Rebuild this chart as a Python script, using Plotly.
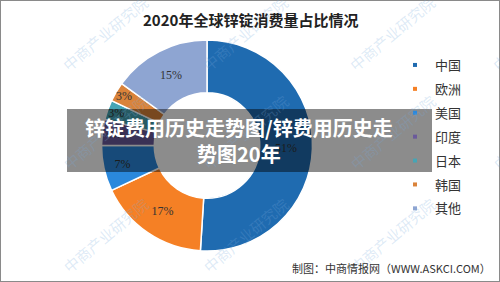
import plotly.graph_objects as go

categories = ["中国", "欧洲", "美国", "印度", "日本", "韩国", "其他"]
values = [51, 17, 7, 4, 3, 3, 15]
colors = ["#1F6BB0", "#F58025", "#2A88DC", "#6B5A9B", "#46A5B5", "#DA833A", "#8EA5D2"]
labels_text = [f"{v}%" for v in values]

title_text = "2020年全球锌锭消费量占比情况"
overlay_text = "锌锭费用历史走势图/锌费用历史走<br>势图20年"
source_text = "制图：中商情报网（WWW.ASKCI.COM）"
watermark = "中商产业研究院"

fig = go.Figure()
fig.add_trace(go.Pie(
    labels=categories, values=values, text=labels_text,
    textinfo="text", textposition="inside", insidetextorientation="horizontal",
    hole=0.5, sort=False, direction="clockwise", rotation=0,
    marker=dict(colors=colors, line=dict(color="white", width=1.5)),
    textfont=dict(family="Liberation Serif, DejaVu Serif", size=12, color="#333333"),
    domain=dict(x=[0.202, 0.626], y=[0.11, 0.858]),
    showlegend=False, hoverinfo="skip",
))
for i, (c, col) in enumerate(zip(categories, colors)):
    fig.add_trace(go.Scatter(
        x=[None], y=[None], mode="markers", name=c, legendgroup=f"g{i}",
        marker=dict(symbol="square", size=4, color=col),
    ))

annotations = []
wm_pos = [(60, 72), (200, 72), (347, 72), (490, 72),
          (60, 170), (200, 170), (347, 170), (490, 170),
          (60, 273), (200, 273), (347, 273)]
for (px, py) in wm_pos:
    annotations.append(dict(
        x=(px + 45) / 500, y=1 - (py - 38) / 282, xref="paper", yref="paper",
        xanchor="center", yanchor="middle",
        text=watermark, showarrow=False, textangle=-40,
        font=dict(family="Noto Sans CJK SC", size=15, color="rgba(120,170,220,0.25)"),
    ))
annotations.append(dict(
    x=0.5, y=1 - 20 / 282, xref="paper", yref="paper", text="<b>" + title_text + "</b>",
    showarrow=False, yanchor="middle",
    font=dict(family="Noto Sans CJK SC", size=15, color="#222222"),
))
annotations.append(dict(
    x=0.986, y=1 - 268 / 282, xref="paper", yref="paper", text=source_text, showarrow=False,
    xanchor="right", yanchor="middle",
    font=dict(family="Noto Sans CJK SC", size=11, color="#333333"),
))
annotations.append(dict(
    x=239 / 500, y=1 - 140 / 282, xref="paper", yref="paper", text="<b>" + overlay_text + "</b>",
    showarrow=False, yanchor="middle",
    font=dict(family="Noto Sans CJK SC", size=20, color="white"),
))

shapes = [
    dict(type="rect", xref="paper", yref="paper", x0=67 / 500, x1=432 / 500,
         y0=1 - 172 / 282, y1=1 - 109 / 282, fillcolor="rgba(0,0,0,0.45)",
         line=dict(width=0), layer="above"),
    dict(type="rect", xref="paper", yref="paper", x0=0, x1=1, y0=0, y1=1,
         line=dict(color="#8a8a8a", width=2), layer="above"),
]

fig.update_layout(
    width=500, height=282, margin=dict(l=0, r=0, t=0, b=0),
    paper_bgcolor="white", plot_bgcolor="white",
    xaxis=dict(visible=False), yaxis=dict(visible=False),
    uniformtext=dict(minsize=11, mode="show"),
    legend=dict(x=0.79, y=1 - 50 / 282, xanchor="left", yanchor="top",
                font=dict(family="Noto Sans CJK SC", size=13, color="#333333"),
                bgcolor="rgba(0,0,0,0)", itemwidth=30, tracegroupgap=4),
    annotations=annotations, shapes=shapes,
)
fig.write_html("out.html")
